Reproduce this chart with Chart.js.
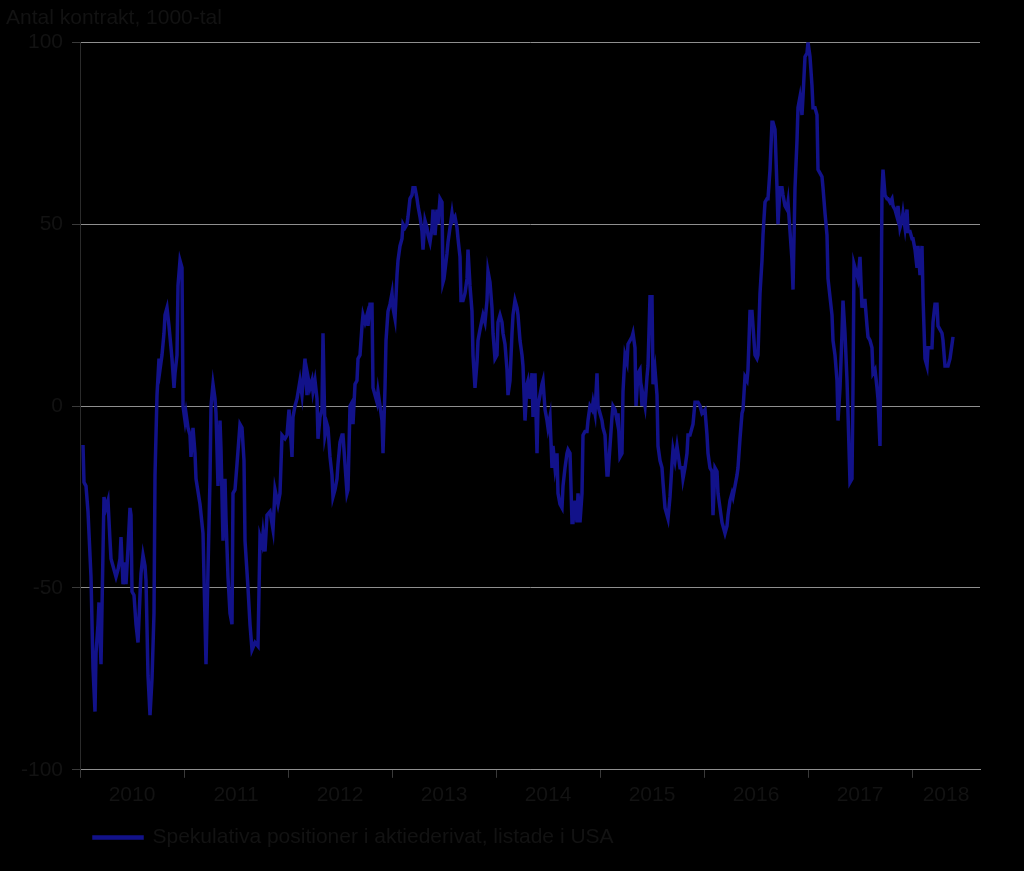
<!DOCTYPE html>
<html lang="sv">
<head>
<meta charset="utf-8">
<title>Spekulativa positioner</title>
<script src="https://cdn.jsdelivr.net/npm/chart.js@4.4.1/dist/chart.umd.min.js"></script>
<style>
  html, body { margin: 0; padding: 0; background: #000; }
  #wrap { width: 1024px; height: 871px; }
</style>
</head>
<body>
<div id="wrap"><canvas id="chart" width="1024" height="871"></canvas></div>
<script>
// veckor sedan början av 2010, och nettopositioner (1000-tal kontrakt)
const weeks = [
  1.5,2,3,4,5.5,6.5,7.5,8,9,9.5,10.5,11.5,12,13,14,15,15.5,16.5,18,19,
  20,20.5,21.5,22.5,23,24,25,25.5,26,27,28,29,30,30.5,31.5,32.5,33,34,35,36,
  37,37.5,38.5,39.5,40,41,42,42.5,43.5,44.5,46,47,47.5,48.5,49,50,51,51.5,52.5,53,
  54,55,55.5,56.5,57.5,58,60,61.5,63,64,65,65.5,66.5,67.5,68,69,70,70.5,71.5,72.5,
  73,74,75,76,76.5,77.5,78.5,80,81,82,82.5,84,85,86,87.5,89,90,91,91.5,92.5,
  93.5,95,96.5,97.5,99,100,101,102.5,103.5,104.5,106,106.5,107.5,108.5,110,111,112.5,113.5,114,115,
  116,116.5,117.5,118.5,119,120,121,121.5,122.5,123.5,124,125,126,126.5,127.5,128.5,129,130,131,131.5,
  132.5,133.5,134,135,136,136.5,137.5,138.5,139,140,141,141.5,142.5,143.5,144,145,146,146.5,147.5,148.5,
  149,150,151,151.5,152.5,153,154,155,156,156.5,157.5,158.5,159,160,161,161.5,162.5,163.5,164,165,
  166,166.5,167.5,168.5,169,170,171,171.5,172.5,173.5,174,175,176,176.5,177.5,178.5,179,180,181,181.5,
  182,183.5,184,185,186,186.5,187.5,188.5,189,190,190.5,191.5,192.5,193.5,194,195,196,196.5,197.5,198.5,
  199,200,201.5,202.5,203.5,204,205,206,206.5,207.5,208.5,209,210,211,211.5,212.5,213.5,214,215,216,
  216.5,217.5,218.5,219,220,221,221.5,222.5,223.5,224,225,226,226.5,227.5,228.5,229,230,231,231.5,232.5,
  233.5,234,235,236,236.5,237.5,238.5,239,240,241,241.5,242.5,243.5,244,245,246,246.5,247.5,248.5,249,
  250,251,251.5,252.5,253.5,254,255,256,256.5,257.5,258.5,259,260,261,261.5,262.5,263.5,264,265,266,
  266.5,267.5,268.5,269,270,271,271.5,272.5,273.5,274,276,276.5,277.5,278,279,280,281,281.5,282.5,283.5,
  284,285,286,286.5,287.5,288.5,289,290,291,291.5,292.5,293.5,294,295,296,296.5,297.5,298.5,299,300,
  301,301.5,302.5,303.5,304,305,306,306.5,307.5,308.5,309,310,311,312.5,313.5,314,315,316,316.5,317.5,
  318.5,319,320,321,321.5,322.5,323.5,324,325,326,326.5,327.5,328.5,329,330,331,331.5,332.5,333.5,334,
  335,336,336.5,337.5,338.5,339,340,341,341.5,342.5,343.5,344,345,346,346.5,347.5,348.5,349,350,351,
  351.5,352.5,353.5,354,355,356,356.5,357.5,358.5,359,360,361,361.5,362.5,363.5,364,365,366,366.5,367.5,
  368.5,369,370,371,371.5,372.5,373.5,374,375,376,376.5,377.5,378.5,379,380,381,381.5,382.5,383.5,384,
  385,386,386.5,387,388.5,389,390,391,391.5,392.5,393.5,394,395,396,396.5,397.5,398.5,399,400,401,
  401.5,402.5,403.5,404,405,406,406.5,407.5,408.5,409,410,411,411.5,412.5,413.5,414,415,416,416.5,417.5,
  418.5,419,420,421,421.5,422.5,423.5,424,425,426,426.5,427.5,428.5,429,430,431,431.5,432.5,433.5,434,435,436,436.5
];
const positions = [
  -10.7,-21,-22,-29,-47,-72,-84,-68,-60,-54,-71,-40,-25,-28,-26,-37,-42,-44,-47,-45,
  -42,-36,-49,-43,-49,-39,-28,-30,-51,-52,-60,-65,-52,-46,-41,-44,-48,-74,-85,-75,
  -57,-19,3,13,10,14,20,25,27,22,13,5,9,14,33,40,38,0,-4,-2,
  -6,-8,-14,-6,-13,-20,-27,-35,-71,-45,-20,0,6,2,-2,-22,-4,-12,-37,-20,
  -31,-47,-57,-60,-24,-23,-16,-5,-6,-15,-37,-50,-60,-67,-65,-66,-36,-38,-35,-40,
  -30,-29,-34,-23,-27,-24,-8,-9,-8,-1,-14,-3,0,2,7,3,13,3,8,5,
  7,4,7,2,-9,-3,-1,20,-8,-5,-6,-14,-19,-25,-23,-20,-16,-10,-8,-8,
  -16,-24,-23,0,1,-5,6,7,13,14,22,25,23,25,22,28,28,5,3,1,
  4,0,-4,-13,5,18,26,28,31,27,24,36,40,44,46,50,49,50,52,57,
  58,60,60,57,55,52,48,43,51,49,47,45,49,54,47,54,50,57,56,34,
  35,42,45,49,53,51,52,49,46,41,29,29,31,35,43,33,26,14,5,12,
  18,21,25,23,29,37,34,27,20,13,14,23,25,23,20,17,10,3,7,20,
  25,29,27,25,18,14,11,-4,6,7,2,9,-3,9,-13,0,3,6,7,-1,
  -4,-6,-3,-17,-11,-17,-13,-24,-27,-28,-22,-17,-13,-12,-13,-32,-32,-26,-32,-24,
  -32,-24,-8,-7,-7,-4,0,-1,1,-2,9,0,-2,-4,-6,-8,-19,-19,-11,-3,
  0,-1,-4,-2,-14,-13,4,14,12,17,19,20,16,0,9,10,0,3,0,8,
  11,30,30,6,10,3,-11,-15,-17,-21,-28,-30,-31,-25,-16,-12,-15,-11,-13,-17,
  -17,-20,-17,-13,-8,-8,-6,-5,1,1,1,0,-2,-1,-8,-13,-17,-18,-30,-17,
  -18,-24,-28,-32,-33,-35,-33,-30,-26,-24,-25,-22,-19,-17,-9,-2,-1,8,7,10,
  26,26,22,14,13,14,31,40,47,56,57,57,65,78,78,76,60,50,60,60,
  58,55,54,56,48,40,32,60,73,82,85,80,85,96,97,100,96,88,82,82,
  80,65,64,63,60,53,47,35,30,25,18,14,7,-4,5,20,29,20,7,-2,
  -21,-20,5,39,36,35,41,27,29,29,22,19,18,16,9,10,5,2,-11,59,
  65,58,57,57,56,57,55,54,52,55,49,51,53,49,54,48,48,46,46,43,
  38,44,36,44,30,13,11,16,16,16,23,28,28,22,21,20,18,11,11,11,13,17,19
];
const yearLabels = ['2010','2011','2012','2013','2014','2015','2016','2017','2018'];
const yTicks = [-100, -50, 0, 50, 100];
const seriesLabel = 'Spekulativa positioner i aktiederivat, listade i USA';
const titleText = 'Antal kontrakt, 1000-tal';

(function(){
  const weeksPerYear = 52;
  const xMax = 450;
  const navy = '#12128a';
  const textColor = '#121212';
  const gridColor = '#8f8f8f';
  const font = { family: '"Liberation Sans", Arial, sans-serif', size: 21, weight: 'normal' };

  const bounds = yearLabels.map((_, i) => i * weeksPerYear);
  const mids = bounds.map(b => (b + Math.min(b + weeksPerYear, xMax)) / 2);
  const isBound = (v) => bounds.includes(v);

  const ctx = document.getElementById('chart');
  new Chart(ctx, {
    type: 'line',
    data: {
      datasets: [{
        label: seriesLabel,
        data: weeks.map((w, i) => ({ x: w, y: positions[i] })),
        borderColor: navy,
        backgroundColor: navy,
        borderWidth: 3.5,
        pointRadius: 0,
        tension: 0,
        fill: false
      }]
    },
    options: {
      responsive: false,
      animation: false,
      devicePixelRatio: 1,
      layout: { padding: { left: 6, right: 44, top: 0, bottom: 13 } },
      plugins: {
        title: {
          display: true,
          text: titleText,
          align: 'start',
          color: textColor,
          font: font,
          padding: { top: 6, bottom: 11 }
        },
        legend: {
          position: 'bottom',
          align: 'start',
          fullSize: false,
          labels: { boxWidth: 48, boxHeight: 1, color: textColor, font: font, padding: 14 }
        },
        tooltip: { enabled: false }
      },
      scales: {
        x: {
          type: 'linear',
          min: 0,
          max: xMax,
          afterBuildTicks: (scale) => {
            scale.ticks = bounds.concat(mids).sort((a, b) => a - b).map(v => ({ value: v }));
          },
          ticks: {
            autoSkip: false,
            maxRotation: 0,
            padding: 5,
            color: textColor,
            font: font,
            callback: (v) => {
              const i = mids.indexOf(v);
              return i >= 0 ? yearLabels[i] : '';
            }
          },
          grid: {
            drawOnChartArea: false,
            tickLength: 8,
            tickColor: (c) => (c.tick && isBound(c.tick.value)) ? '#3a3a3a' : 'rgba(0,0,0,0)'
          },
          border: { color: gridColor }
        },
        y: {
          min: -100,
          max: 100,
          afterBuildTicks: (scale) => { scale.ticks = yTicks.map(v => ({ value: v })); },
          afterFit: (scale) => { scale.width = 74; },
          ticks: { color: textColor, font: font, padding: 9 },
          grid: { color: gridColor, tickLength: 8, tickColor: '#3a3a3a' },
          border: { color: '#2a2a2a' }
        }
      }
    }
  });
})();
</script>
</body>
</html>
